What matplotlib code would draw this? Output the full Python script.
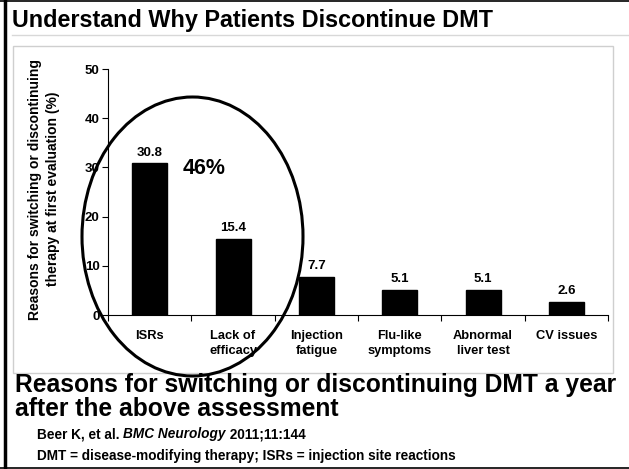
import matplotlib
matplotlib.use("Agg")
import matplotlib.pyplot as plt
from matplotlib.patches import Ellipse, Rectangle
from matplotlib.lines import Line2D

plt.rcParams['font.family'] = ['Liberation Sans', 'DejaVu Sans']
plt.rcParams['font.weight'] = 'bold'

# data
categories = ["ISRs", "Lack of\nefficacy", "Injection\nfatigue", "Flu-like\nsymptoms",
              "Abnormal\nliver test", "CV issues"]
values = [30.8, 15.4, 7.7, 5.1, 5.1, 2.6]
yticks = [0, 10, 20, 30, 40, 50]

W, H = 629, 469
fig = plt.figure(figsize=(W / 100, H / 100), dpi=100)

def fx(px):  # pixel x -> figure fraction
    return px / W

def fy(py):  # pixel y (from top) -> figure fraction
    return 1 - py / H

# slide frame
fig.add_artist(Line2D([fx(4.5), fx(4.5)], [0, 1], color='black', lw=2.5))
fig.add_artist(Line2D([0, 1], [fy(0.7), fy(0.7)], color='black', lw=1.2))
fig.add_artist(Line2D([0, 1], [fy(467.5), fy(467.5)], color='black', lw=1.2))
fig.add_artist(Line2D([fx(12), 1], [fy(35), fy(35)], color='#d8d8d8', lw=1))
fig.add_artist(Rectangle((fx(12.5), fy(373)), fx(613) - fx(12.5), fy(46) - fy(373),
                         transform=fig.transFigure, fill=False, edgecolor='#cfcfcf', lw=1))

fig.text(fx(12), fy(20), "Understand Why Patients Discontinue DMT", fontsize=16.8,
         fontweight='bold', va='center', ha='left')

ax = fig.add_axes([fx(108), fy(315), fx(608) - fx(108), fy(69) - fy(315)])
x = range(len(values))
ax.bar(x, values, width=0.42, color='black', edgecolor='black')
for xi, v in zip(x, values):
    ax.text(xi, v + 1.0, f"{v}", ha='center', va='bottom', fontsize=9.5, fontweight='bold')

ax.set_xlim(-0.5, len(values) - 0.5)
ax.set_ylim(0, 50)
ax.set_yticks(yticks)
ax.set_yticklabels([str(t) for t in yticks], fontsize=9.5, fontweight='bold')
ax.set_xticks([i - 0.5 for i in range(len(values) + 1)], minor=False)
ax.set_xticklabels([])
ax.set_xticks(list(x), minor=True)
ax.set_xticklabels(categories, minor=True, fontsize=9.3, fontweight='bold', linespacing=1.35)
ax.tick_params(axis='x', which='minor', length=0, pad=11)
ax.tick_params(axis='x', which='major', length=4, direction='out', width=0.8)
ax.tick_params(axis='y', length=4, direction='out', width=0.8, pad=2)
ax.spines['top'].set_visible(False)
ax.spines['right'].set_visible(False)
ax.spines['left'].set_linewidth(0.8)
ax.spines['bottom'].set_linewidth(0.8)
ax.patch.set_alpha(0)

fig.text(fx(44), fy(189), "Reasons for switching or discontinuing\ntherapy at first evaluation (%)",
         rotation=90, ha='center', va='center', fontsize=10, fontweight='bold', linespacing=1.3)

fig.text(fx(204), fy(168), "46%", fontsize=15.5, fontweight='bold', ha='center', va='center')

fig.add_artist(Ellipse((fx(192.5), fy(236.5)), fx(221), 279 / H, transform=fig.transFigure,
                       fill=False, edgecolor='black', lw=2.2))

fig.text(fx(15), fy(397), "Reasons for switching or discontinuing DMT a year\nafter the above assessment",
         fontsize=17.7, fontweight='bold', ha='left', va='center', linespacing=1.0)

# reference line with italic journal name
renderer = fig.canvas.get_renderer()
xpos = fx(37)
for part, style in [("Beer K, et al. ", 'normal'), ("BMC Neurology", 'italic'), (" 2011;11:144", 'normal')]:
    t = fig.text(xpos, fy(434), part, fontsize=9.8, fontweight='bold', fontstyle=style,
                 ha='left', va='center')
    bb = t.get_window_extent(renderer=renderer)
    xpos += bb.width / W
fig.text(fx(37), fy(456), "DMT = disease-modifying therapy; ISRs = injection site reactions",
         fontsize=9.8, fontweight='bold', ha='left', va='center')

fig.savefig("out.png", dpi=100)
